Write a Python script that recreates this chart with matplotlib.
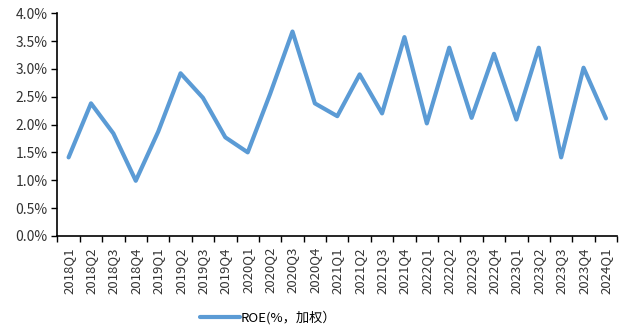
import matplotlib
matplotlib.use("Agg")
import matplotlib.pyplot as plt
from matplotlib.ticker import FixedLocator, NullFormatter

plt.rcParams['font.family'] = ['Noto Sans CJK SC', 'DejaVu Sans']

quarters = ["2018Q1", "2018Q2", "2018Q3", "2018Q4",
            "2019Q1", "2019Q2", "2019Q3", "2019Q4",
            "2020Q1", "2020Q2", "2020Q3", "2020Q4",
            "2021Q1", "2021Q2", "2021Q3", "2021Q4",
            "2022Q1", "2022Q2", "2022Q3", "2022Q4",
            "2023Q1", "2023Q2", "2023Q3", "2023Q4",
            "2024Q1"]
roe = [1.41, 2.38, 1.84, 0.99,
       1.87, 2.92, 2.48, 1.77,
       1.50, 2.55, 3.67, 2.38,
       2.15, 2.90, 2.20, 3.57,
       2.02, 3.38, 2.12, 3.27,
       2.09, 3.38, 1.41, 3.02,
       2.11]
y_ticks = [0.0, 0.5, 1.0, 1.5, 2.0, 2.5, 3.0, 3.5, 4.0]
series_name = "ROE(%，加权）"

fig = plt.figure(figsize=(6.24, 3.29), dpi=100)
ax = fig.add_axes([0.092, 0.283, 0.897, 0.677])

x = list(range(len(quarters)))
ax.plot(x, roe, color="#5B9BD5", linewidth=3.0, solid_joinstyle="round",
        solid_capstyle="round", label=series_name)

ax.set_xlim(-0.5, len(quarters) - 0.5)
ax.set_ylim(0, 4.0)

ax.set_yticks(y_ticks)
ax.set_yticklabels([f"{v:.1f}%" for v in y_ticks], fontsize=10, color="#333333")

# category labels centred, tick marks on the boundaries between categories
ax.set_xticks(x)
ax.set_xticklabels(quarters, rotation=90, fontsize=9.5, color="#333333")
ax.tick_params(axis="x", which="major", length=0, pad=8)
ax.xaxis.set_minor_locator(FixedLocator([i - 0.5 for i in range(len(quarters) + 1)]))
ax.xaxis.set_minor_formatter(NullFormatter())
ax.tick_params(axis="x", which="minor", length=4, width=1.0, direction="out", color="black")
ax.tick_params(axis="y", length=4, width=1.0, direction="out", color="black", pad=3)

for side in ("top", "right"):
    ax.spines[side].set_visible(False)
for side in ("left", "bottom"):
    ax.spines[side].set_linewidth(1.2)
    ax.spines[side].set_color("black")

fig.legend(loc="center", bbox_to_anchor=(0.43, 0.035), frameon=False,
           fontsize=9.5, handlelength=3.0, handletextpad=0.1)

fig.savefig("out.png", dpi=100)
